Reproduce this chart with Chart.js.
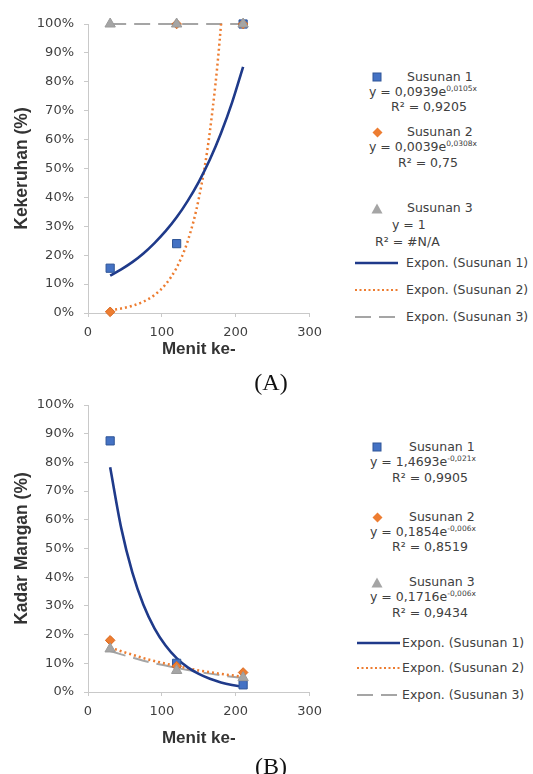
<!DOCTYPE html>
<html>
<head>
<meta charset="utf-8">
<script src="https://cdn.jsdelivr.net/npm/chart.js@4.4.1/dist/chart.umd.min.js"></script>
<style>
  html, body { margin:0; padding:0; background:#fff; }
  body { width:533px; height:774px; position:relative; overflow:hidden; }
  canvas { position:absolute; left:0; }
  .lg { position:absolute; font-family:"DejaVu Sans", sans-serif; font-size:12.5px; color:#404040; white-space:nowrap; line-height:14px; transform:translateY(-50%); }
  .lg sup { font-size:7.5px; vertical-align:5px; line-height:0; }
  .mk { position:absolute; line-height:0; }
  .mk svg { display:block; }
  .cap { position:absolute; font-family:"Liberation Serif", serif; font-size:24px; color:#111; transform:translate(-50%,-50%); line-height:26px; }
</style>
</head>
<body>
<canvas id="cA" width="330" height="370" style="top:0px"></canvas>
<canvas id="cB" width="330" height="377" style="top:381px"></canvas>
<div id="legends"></div>
<div class="cap" style="left:271px; top:382px">(A)</div>
<div class="cap" style="left:271px; top:766px">(B)</div>
<script>
// ---------- data ----------
const minutes = [30, 120, 210];
const xTickValues = [0, 100, 200, 300];
const seriesNames = ['Susunan 1', 'Susunan 2', 'Susunan 3'];
const trendNames = ['Expon. (Susunan 1)', 'Expon. (Susunan 2)', 'Expon. (Susunan 3)'];

// Chart A: Kekeruhan
const aSusunan1 = [0.155, 0.24, 1.0];
const aSusunan2 = [0.004, 1.0, 1.0];
const aSusunan3 = [1.0, 1.0, 1.0];
const trendMinutes = [30, 45, 60, 75, 90, 105, 120, 135, 150, 165, 180, 195, 210];
const aTrend1 = [0.129, 0.151, 0.176, 0.206, 0.242, 0.283, 0.331, 0.388, 0.454, 0.531, 0.622, 0.728, 0.852];
const aTrend2 = [0.0098, 0.0156, 0.0248, 0.0393, 0.0624, 0.099, 0.157, 0.249, 0.396, 0.628, 0.997, 1.583, 2.512];
const aTrend3 = [1, 1, 1, 1, 1, 1, 1, 1, 1, 1, 1, 1, 1];
const aEquations = ['y = 0,0939e|0,0105x', 'y = 0,0039e|0,0308x', 'y = 1'];
const aR2 = ['R² = 0,9205', 'R² = 0,75', 'R² = #N/A'];

// Chart B: Kadar Mangan
const bSusunan1 = [0.875, 0.10, 0.025];
const bSusunan2 = [0.18, 0.09, 0.068];
const bSusunan3 = [0.15, 0.075, 0.05];
const bTrend1 = [0.783, 0.571, 0.417, 0.304, 0.222, 0.162, 0.118, 0.086, 0.063, 0.046, 0.0335, 0.0245, 0.0179];
const bTrend2 = [0.155, 0.142, 0.130, 0.118, 0.108, 0.099, 0.090, 0.083, 0.075, 0.069, 0.063, 0.058, 0.053];
const bTrend3 = [0.143, 0.131, 0.120, 0.109, 0.100, 0.092, 0.0835, 0.0765, 0.070, 0.064, 0.058, 0.053, 0.049];
const bEquations = ['y = 1,4693e|-0,021x', 'y = 0,1854e|-0,006x', 'y = 0,1716e|-0,006x'];
const bR2 = ['R² = 0,9905', 'R² = 0,8519', 'R² = 0,9434'];

// ---------- styles ----------
const BLUE = '#4472C4', ORANGE = '#ED7D31', GRAY = '#A5A5A5', NAVY = '#1F3A8A';
const AXIS = '#C9C9C9', TICK = '#404040';

function pts(xs, ys) { return xs.map((x, i) => ({x: x, y: ys[i]})); }

function makeChart(id, yTitle, s, t, axisH, titlePadB) {
  const markerCommon = { showLine:false, clip:false, borderWidth:1 };
  const datasets = [
    Object.assign({ label:seriesNames[2], data:pts(minutes, s[2]), pointStyle:'triangle', pointRadius:6, backgroundColor:GRAY, borderColor:'#9a9a9a', order:1 }, markerCommon),
    Object.assign({ label:seriesNames[1], data:pts(minutes, s[1]), pointStyle:'rectRot', pointRadius:4.8, backgroundColor:ORANGE, borderColor:'#d9691f', order:2 }, markerCommon),
    Object.assign({ label:seriesNames[0], data:pts(minutes, s[0]), pointStyle:'rect', pointRadius:5.8, backgroundColor:BLUE, borderColor:'#2F5597', order:3 }, markerCommon),
    { label:trendNames[0], data:pts(trendMinutes, t[0]), showLine:true, pointRadius:0, borderColor:NAVY, borderWidth:2.6, cubicInterpolationMode:'monotone', clip:2, order:4 },
    { label:trendNames[1], data:pts(trendMinutes, t[1]), showLine:true, pointRadius:0, borderColor:ORANGE, borderWidth:2.5, borderDash:[2,3], cubicInterpolationMode:'monotone', clip:2, order:5 },
    { label:trendNames[2], data:pts(trendMinutes, t[2]), showLine:true, pointRadius:0, borderColor:GRAY, borderWidth:2, borderDash:[16,8], clip:2, order:6 }
  ];
  return new Chart(document.getElementById(id), {
    type:'scatter',
    data:{ datasets },
    options:{
      responsive:false, animation:false, devicePixelRatio:1,
      layout:{ padding:{ left:0, top:24, right:17, bottom:0 } },
      plugins:{ legend:{ display:false }, tooltip:{ enabled:false } },
      scales:{
        x:{
          type:'linear', min:0, max:300,
          afterBuildTicks: sc => { sc.ticks = xTickValues.map(v => ({value:v})); },
          afterFit: sc => { sc.height = axisH; },
          grid:{ drawOnChartArea:false, drawTicks:true, tickLength:4, color:AXIS },
          border:{ color:AXIS, width:1 },
          ticks:{ color:TICK, padding:8, font:{ family:'DejaVu Sans', size:13 } },
          title:{ display:true, text:'Menit ke-', color:'#333', font:{ family:'Liberation Sans', size:17, weight:'bold' }, padding:{ top:0, bottom:titlePadB } }
        },
        y:{
          type:'linear', min:0, max:1,
          ticks:{ stepSize:0.1, color:TICK, padding:10, font:{ family:'DejaVu Sans', size:13 }, callback: v => Math.round(v*100) + '%' },
          afterFit: sc => { sc.width = 88; },
          grid:{ drawOnChartArea:false, drawTicks:true, tickLength:4, color:AXIS },
          border:{ color:AXIS, width:1 },
          title:{ display:true, text:yTitle, color:'#333', font:{ family:'Liberation Sans', size:17.5, weight:'bold' }, padding:{ top:12, bottom:0 } }
        }
      }
    }
  });
}

makeChart('cA', 'Kekeruhan (%)', [aSusunan1, aSusunan2, aSusunan3], [aTrend1, aTrend2, aTrend3], 57, 10);
makeChart('cB', 'Kadar Mangan (%)', [bSusunan1, bSusunan2, bSusunan3], [bTrend1, bTrend2, bTrend3], 66, 9);

// ---------- legends (HTML) ----------
const L = document.getElementById('legends');
function text(x, y, html) {
  const d = document.createElement('div'); d.className = 'lg';
  d.style.left = x + 'px'; d.style.top = y + 'px'; d.innerHTML = html; L.appendChild(d);
}
function eq(s) { const p = s.split('|'); return p.length > 1 ? p[0] + '<sup>' + p[1] + '</sup>' : p[0]; }
function svg(x, y, w, h, inner) {
  const d = document.createElement('div'); d.className = 'mk';
  d.style.left = (x - w/2) + 'px'; d.style.top = (y - h/2) + 'px';
  d.innerHTML = '<svg width="' + w + '" height="' + h + '" xmlns="http://www.w3.org/2000/svg">' + inner + '</svg>';
  L.appendChild(d);
}
const markerSvg = [
  ['rect', 10, 10, '<rect x="1" y="1" width="8" height="8" fill="' + BLUE + '" stroke="#2F5597" stroke-width="1"/>'],
  ['dia', 11, 11, '<polygon points="5.5,0.5 10.5,5.5 5.5,10.5 0.5,5.5" fill="' + ORANGE + '"/>'],
  ['tri', 12, 11, '<polygon points="6,0.5 11.5,10.5 0.5,10.5" fill="' + GRAY + '"/>']
];
const lineSvg = [
  '<line x1="0" y1="3" x2="43" y2="3" stroke="' + NAVY + '" stroke-width="2.5"/>',
  '<line x1="0" y1="3" x2="43" y2="3" stroke="' + ORANGE + '" stroke-width="2" stroke-dasharray="2,2.5"/>',
  '<line x1="0" y1="3" x2="43" y2="3" stroke="' + GRAY + '" stroke-width="2" stroke-dasharray="16,8"/>'
];
function legend(cfg) {
  for (let i = 0; i < 3; i++) {
    const m = markerSvg[i];
    svg(377, cfg.nameY[i], m[1], m[2], m[3]);
    text(cfg.nameX, cfg.nameY[i], seriesNames[i]);
    text(cfg.eqX[i], cfg.nameY[i] + cfg.eqDy[i], eq(cfg.eqs[i]));
    text(cfg.r2X[i], cfg.nameY[i] + cfg.r2Dy[i], cfg.r2[i]);
  }
  for (let i = 0; i < 3; i++) {
    svg(cfg.lineX + 21.5, cfg.lineY[i], 43, 6, lineSvg[i]);
    text(cfg.lineTextX, cfg.lineY[i], trendNames[i]);
  }
}
legend({ nameX:407, nameY:[77, 132, 208], eqX:[369, 369, 392], eqDy:[15, 15, 17], r2X:[391, 398, 375], r2Dy:[30, 31, 34], eqs:aEquations, r2:aR2, lineX:355, lineY:[263, 290, 317], lineTextX:406 });
legend({ nameX:409, nameY:[447, 517, 582], eqX:[370, 370, 370], eqDy:[15, 15, 15], r2X:[392, 392, 392], r2Dy:[31, 30, 31], eqs:bEquations, r2:bR2, lineX:357, lineY:[643, 668, 695], lineTextX:402 });
</script>
</body>
</html>
